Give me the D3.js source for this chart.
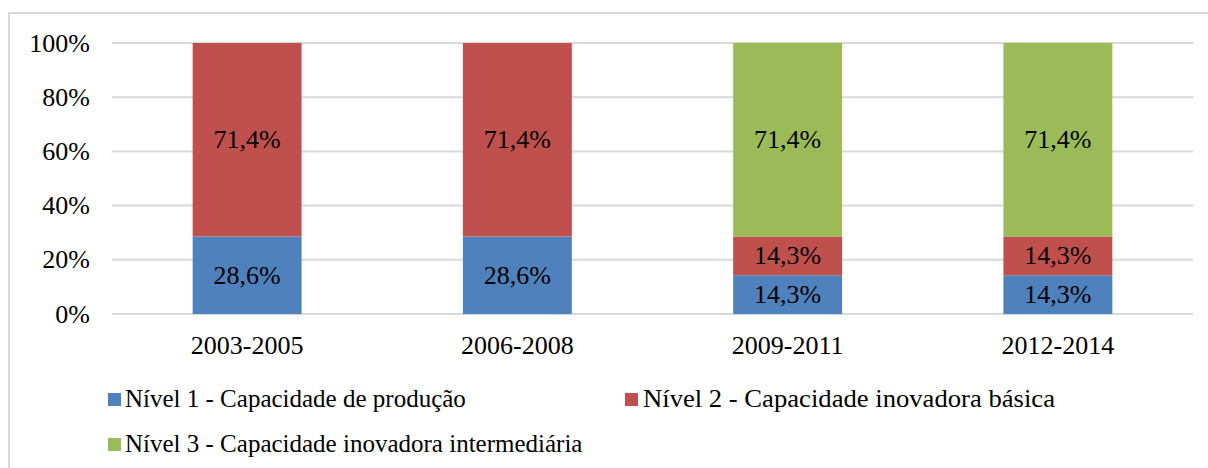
<!DOCTYPE html>
<html>
<head>
<meta charset="utf-8">
<script src="https://d3js.org/d3.v7.min.js"></script>
<style>
    body { margin: 0; background: #fff; }
    svg { display: block; }
    text { font-family: "Liberation Serif", "Times New Roman", serif; fill: #000; }
</style>
</head>
<body>
<script>
    var SVGWidth = 1208;
    var SVGHeight = 468;

    // data
    var periods = ["2003-2005", "2006-2008", "2009-2011", "2012-2014"];
    var seriesNames = [
        "Nível 1 - Capacidade de produção",
        "Nível 2 - Capacidade inovadora básica",
        "Nível 3 - Capacidade inovadora intermediária"
    ];
    var nivel1 = [28.6, 28.6, 14.3, 14.3];
    var nivel2 = [71.4, 71.4, 14.3, 14.3];
    var nivel3 = [0, 0, 71.4, 71.4];
    var yTicks = [0, 20, 40, 60, 80, 100];

    var colors = ["#4F81BD", "#C0504D", "#9BBB59"];

    var svg = d3.select("body")
        .append("svg")
        .attr("width", SVGWidth)
        .attr("height", SVGHeight);

    // chart frame (right and bottom edges run off the picture)
    svg.append("rect")
        .attr("x", 9)
        .attr("y", 13)
        .attr("width", 1220)
        .attr("height", 480)
        .attr("fill", "none")
        .attr("stroke", "#D9D9D9")
        .attr("stroke-width", 2);

    var x = d3.scaleBand()
        .domain(periods)
        .range([112, 1193])
        .paddingInner(0.597)
        .paddingOuter(0.2985);

    var y = d3.scaleLinear()
        .domain([0, 100])
        .range([314, 43]);

    // gridlines
    svg.selectAll(".grid")
        .data(yTicks)
        .enter().append("line")
        .attr("x1", 112)
        .attr("x2", 1193)
        .attr("y1", function(d) { return y(d); })
        .attr("y2", function(d) { return y(d); })
        .attr("stroke", "#D9D9D9")
        .attr("stroke-width", 2);

    // y labels
    svg.selectAll(".ylab")
        .data(yTicks)
        .enter().append("text")
        .attr("x", 90)
        .attr("y", function(d) { return y(d); })
        .attr("dy", "0.33em")
        .attr("text-anchor", "end")
        .style("font-size", "26px")
        .text(function(d) { return d + "%"; });

    // x labels
    svg.selectAll(".xlab")
        .data(periods)
        .enter().append("text")
        .attr("x", function(d) { return x(d) + x.bandwidth() / 2; })
        .attr("y", 354)
        .attr("text-anchor", "middle")
        .style("font-size", "26px")
        .text(function(d) { return d; });

    // stacked data
    var rows = periods.map(function(p, i) {
        return { period: p, s0: nivel1[i], s1: nivel2[i], s2: nivel3[i] };
    });
    var stack = d3.stack().keys(["s0", "s1", "s2"]);
    var layers = stack(rows);

    var groups = svg.selectAll(".layer")
        .data(layers)
        .enter().append("g")
        .attr("fill", function(d, i) { return colors[i]; });

    groups.selectAll("rect")
        .data(function(d) { return d; })
        .enter().append("rect")
        .attr("x", function(d) { return x(d.data.period); })
        .attr("width", x.bandwidth())
        .attr("y", function(d) { return y(d[1]); })
        .attr("height", function(d) { return y(d[0]) - y(d[1]); });

    // value labels
    groups.selectAll("text")
        .data(function(d) { return d.filter(function(e) { return e[1] - e[0] > 0; }); })
        .enter().append("text")
        .attr("x", function(d) { return x(d.data.period) + x.bandwidth() / 2; })
        .attr("y", function(d) { return (y(d[0]) + y(d[1])) / 2; })
        .attr("dy", "0.33em")
        .attr("text-anchor", "middle")
        .style("font-size", "26px")
        .text(function(d) { return d3.format(".1f")(d[1] - d[0]).replace(".", ",") + "%"; });

    // legend (x, y, text width)
    var legendPos = [[108, 393, 0], [625, 393, 412], [108, 438, 0]];
    var legend = svg.selectAll(".legend")
        .data(seriesNames)
        .enter().append("g")
        .attr("transform", function(d, i) { return "translate(" + legendPos[i][0] + "," + legendPos[i][1] + ")"; });

    legend.append("rect")
        .attr("width", 13)
        .attr("height", 13)
        .attr("fill", function(d, i) { return colors[i]; });

    legend.append("text")
        .attr("x", function(d, i) { return i == 1 ? 18 : 17; })
        .attr("y", 14)
        .style("font-size", "25px")
        .each(function(d, i) {
            if (legendPos[i][2]) {
                d3.select(this).attr("textLength", legendPos[i][2]).attr("lengthAdjust", "spacingAndGlyphs");
            }
        })
        .text(function(d) { return d; });
</script>
</body>
</html>
